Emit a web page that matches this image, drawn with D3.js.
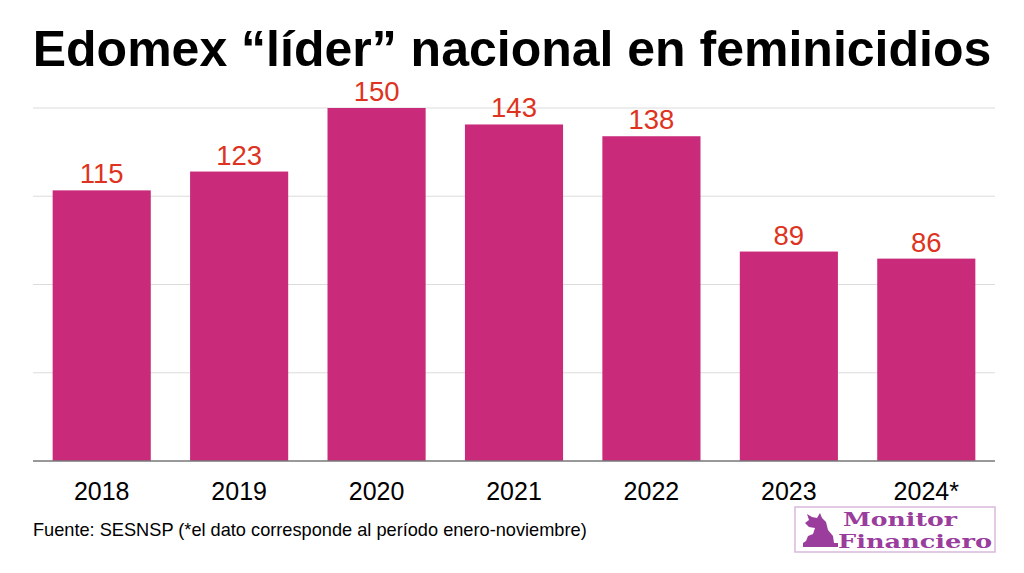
<!DOCTYPE html>
<html><head><meta charset="utf-8">
<script src="https://cdn.jsdelivr.net/npm/d3@7"></script>
<style>body{margin:0;background:#fff}svg{display:block}</style>
</head><body>
<svg id="c" width="1024" height="573"></svg>
<script>
const categories = ["2018","2019","2020","2021","2022","2023","2024*"];
const values = [115,123,150,143,138,89,86];
const gridTicks = [0,37.5,75,112.5,150];
const title = "Edomex \u201cl\u00edder\u201d nacional en feminicidios";
const source = "Fuente: SESNSP (*el dato corresponde al per\u00edodo enero-noviembre)";

const svg = d3.select("#c");
const font = "Liberation Sans, Arial, Helvetica, sans-serif";
const x = d3.scaleBand().domain(categories).range([33,995]).paddingInner(0.286).paddingOuter(0.143);
const y = d3.scaleLinear().domain([0,150]).range([461,108]);

svg.append("text").attr("x",512).attr("y",66).attr("text-anchor","middle")
  .attr("font-family",font).attr("font-weight","bold").attr("font-size",50).attr("fill","#000").text(title);

svg.append("g").selectAll("line").data(gridTicks.slice(1)).join("line")
  .attr("x1",33).attr("x2",995).attr("y1",d=>y(d)).attr("y2",d=>y(d))
  .attr("stroke","#dcdcdc").attr("stroke-width",1.2);

svg.append("g").selectAll("rect").data(values).join("rect")
  .attr("x",(d,i)=>x(categories[i])).attr("width",x.bandwidth())
  .attr("y",d=>y(d)).attr("height",d=>y(0)-y(d)).attr("fill","#c92a7a");

svg.append("line").attr("x1",33).attr("x2",995).attr("y1",y(0)).attr("y2",y(0))
  .attr("stroke","#777").attr("stroke-width",1.5);

svg.append("g").selectAll("text").data(values).join("text")
  .attr("x",(d,i)=>x(categories[i])+x.bandwidth()/2).attr("y",d=>y(d)-7)
  .attr("text-anchor","middle").attr("font-family",font).attr("font-size",27.5)
  .attr("fill","#dd3320").text(d=>d);

const xa = svg.append("g").attr("transform",`translate(0,${y(0)})`)
  .call(d3.axisBottom(x).tickSize(0).tickPadding(21));
xa.select(".domain").remove();
xa.selectAll("text").attr("font-family",font).attr("font-size",25).attr("fill","#000");

svg.append("text").attr("x",33).attr("y",536).attr("font-family",font).attr("font-size",18.2)
  .attr("fill","#000").text(source);

// logo
const lg = svg.append("g");
lg.append("rect").attr("x",795).attr("y",507).attr("width",200).attr("height",45)
  .attr("fill","#fff").attr("stroke","#d9b8dc").attr("stroke-width",1.5);
lg.append("path").attr("d","M803,547 L838,547 L838,543 L834,543 L833,536 L828,530 L826,522 L822,518 L820,513 L817,518 L812,517 L807,514 L809,520 L805,523 L809,527 L815,528 L813,534 L808,536 L806,541 L803,543 Z")
  .attr("fill","#9a3d9d");
lg.append("text").attr("x",843).attr("y",526).attr("font-family","DejaVu Serif, Liberation Serif, serif")
  .attr("font-weight","bold").attr("font-size",18).attr("fill","#9a3d9d")
  .attr("textLength",114).attr("lengthAdjust","spacingAndGlyphs").text("Monitor");
lg.append("text").attr("x",838).attr("y",548).attr("font-family","DejaVu Serif, Liberation Serif, serif")
  .attr("font-weight","bold").attr("font-size",18).attr("fill","#9a3d9d")
  .attr("textLength",154).attr("lengthAdjust","spacingAndGlyphs").text("Financiero");
</script>
</body></html>
